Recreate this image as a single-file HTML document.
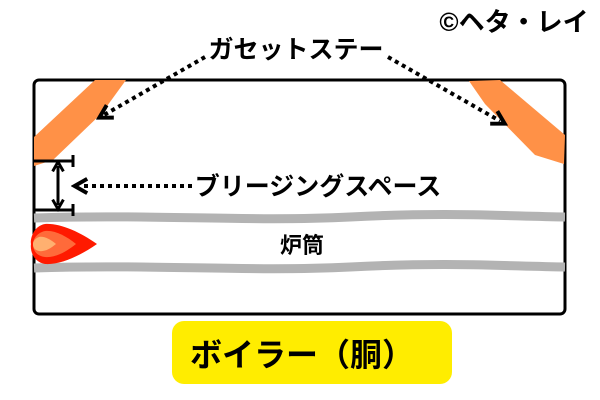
<!DOCTYPE html>
<html><head><meta charset="utf-8"><style>
html,body{margin:0;padding:0;background:#fff;}
svg{display:block}
text{font-family:"Liberation Sans","Noto Sans CJK JP",sans-serif;font-weight:bold;fill:#000}
</style></head><body>
<svg width="600" height="400" viewBox="0 0 600 400">
<defs>
<marker id="ah" viewBox="0 0 10 10" refX="5" refY="5" markerWidth="4.5" markerHeight="4.5" orient="auto-start-reverse"><path d="M1,1 L8,5 L1,9" fill="none" stroke="#000" stroke-width="2.2"/></marker>
</defs>
<rect x="34" y="80" width="531" height="234" rx="5" fill="none" stroke="#000" stroke-width="3"/>
<polygon points="95,80 126,80 102,113 53,160 34,166 34,137" fill="#FF9147"/>
<polygon points="469,81 500,80 565,135 564,164 535,155 485,104" fill="#FF9147"/>
<path d="M34,218 C150,214 250,222 350,217 S500,216 565,217" stroke="#b3b3b3" stroke-width="9" fill="none"/>
<path d="M34,268 C150,264 250,272 350,267 S500,266 565,267" stroke="#b3b3b3" stroke-width="9" fill="none"/>
<path d="M97,244 C80,232 60,223 45,224 C33,226 30,240 31,244 C30,250 33,262 45,264 C60,265 80,256 97,244Z" fill="#FF1A00"/>
<path d="M76,244 C66,236 55,230 45,231 C36,233 33,240 33,244 C33,250 36,256 45,257 C55,258 66,252 76,244Z" fill="#FF6A3A"/>
<path d="M56,244 C50,239 44,236 39,237 C34,239 33,242 33,244 C33,247 34,250 39,251 C44,252 50,249 56,244Z" fill="#FFB070"/>
<g stroke="#000" stroke-width="3" fill="none">
<line x1="34" y1="161" x2="73" y2="161"/>
<line x1="73" y1="155" x2="73" y2="167"/>
<line x1="34" y1="210" x2="73" y2="210"/>
<line x1="73" y1="204" x2="73" y2="216"/>
<line x1="58" y1="166" x2="58" y2="205" marker-start="url(#ah)" marker-end="url(#ah)"/>
</g>
<g stroke="#000" stroke-width="4" stroke-dasharray="4,4" fill="none">
<line x1="192" y1="186" x2="80" y2="186" marker-end="url(#ah)"/>
<line x1="205" y1="57" x2="104" y2="115" marker-end="url(#ah)"/>
<line x1="388" y1="57" x2="500" y2="121" marker-end="url(#ah)"/>
</g>
<text x="296" y="58" font-size="25" text-anchor="middle">ガセットステー</text>
<text x="514" y="31" font-size="26" text-anchor="middle">©ヘタ・レイ</text>
<text x="318" y="195" font-size="25" text-anchor="middle">ブリージングスペース</text>
<text x="302" y="253" font-size="22" text-anchor="middle">炉筒</text>
<rect x="172" y="321" width="280" height="63" rx="12" fill="#FFED00"/>
<text x="302" y="366" font-size="32" text-anchor="middle">ボイラー（胴）</text>
</svg>
</body></html>
